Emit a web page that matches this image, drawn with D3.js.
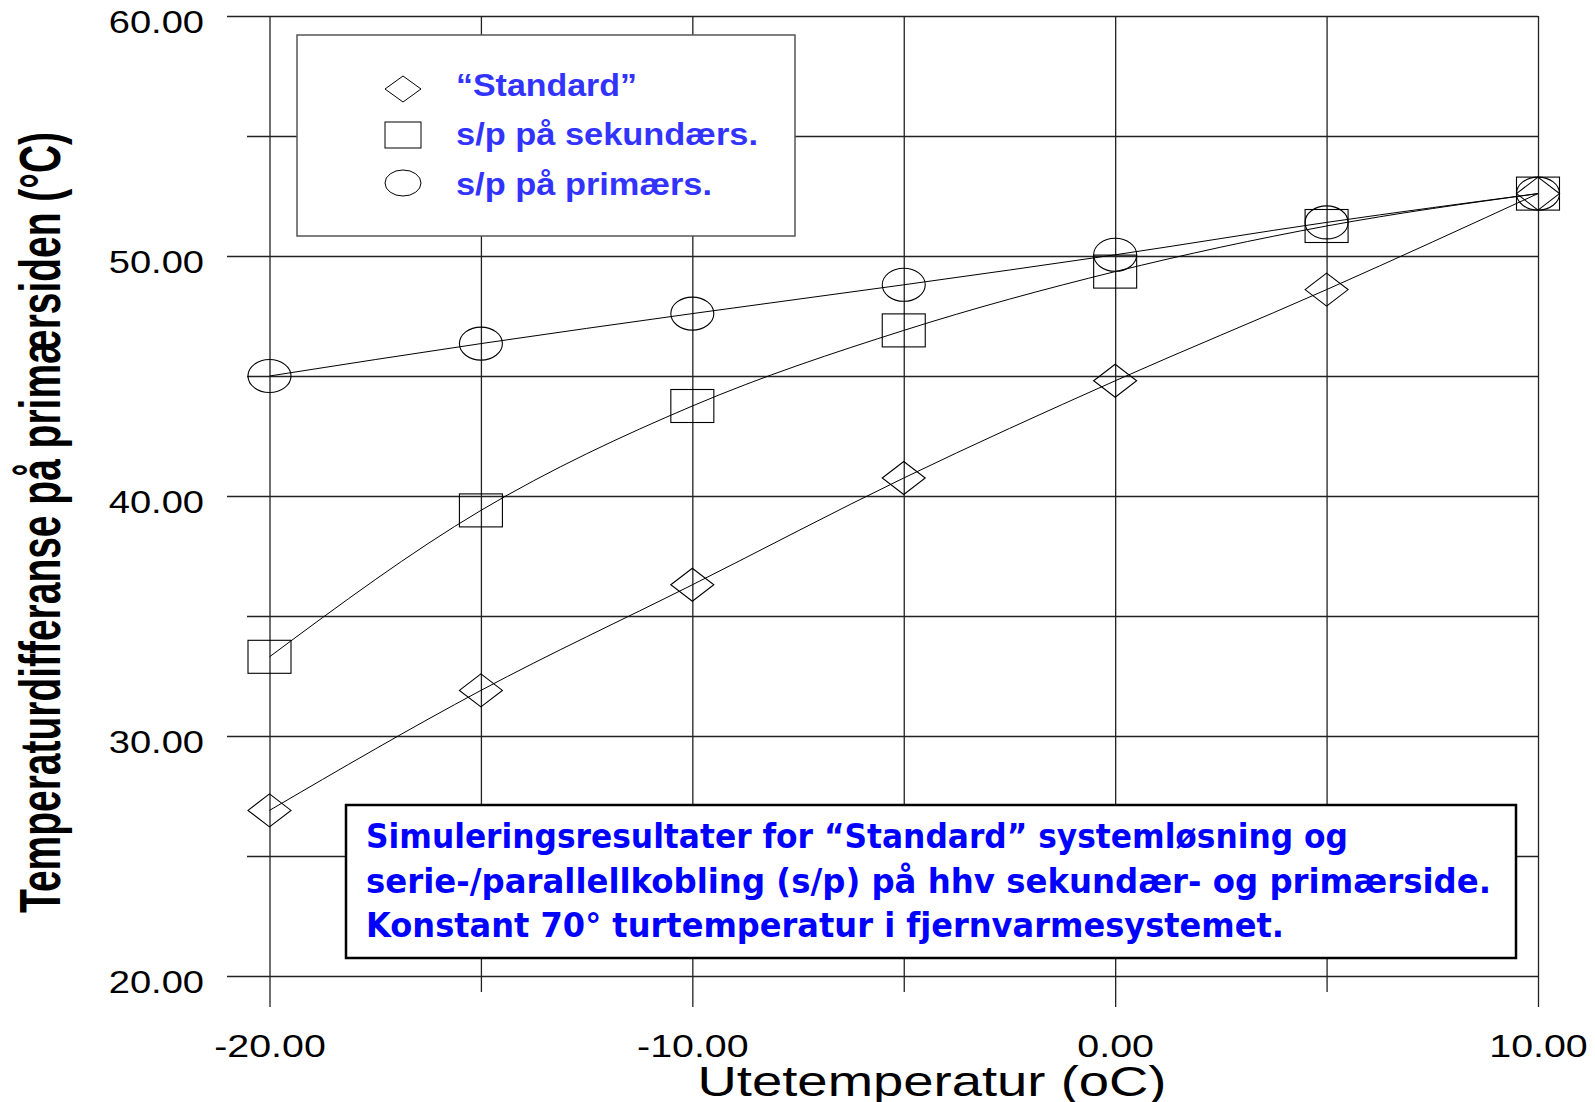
<!DOCTYPE html>
<html>
<head>
<meta charset="utf-8">
<script src="https://cdn.jsdelivr.net/npm/d3@7"></script>
<style>
  body { margin: 0; background: #fff; }
  .axis text { font-family: Arial, "Liberation Sans", sans-serif; fill: #000; }
</style>
</head>
<body>
<div id="chart"></div>
<script>
"use strict";

// data
const outdoorTemps = [-20, -15, -10, -5, 0, 5, 10];
const standardDT = [26.9, 31.9, 36.3, 40.75, 44.8, 48.6, 52.6];
const spSecondaryDT = [33.3, 39.4, 43.75, 46.9, 49.35, 51.25, 52.6];
const spPrimaryDT = [45.0, 46.35, 47.6, 48.8, 50.05, 51.4, 52.6];
const seriesNames = ["\u201CStandard\u201D", "s/p på sekundærs.", "s/p på primærs."];
const markerShapes = ["diamond", "square", "circle"];

const xMajorTicks = [-20, -10, 0, 10];
const xMinorTicks = [-15, -5, 5];
const yMajorTicks = [20, 30, 40, 50, 60];
const yMinorTicks = [25, 35, 45, 55];

const xTitle = "Utetemperatur (oC)";
const yTitle = "Temperaturdifferanse på primærsiden (°C)";
const noteLines = [
  "Simuleringsresultater for \u201CStandard\u201D systemløsning og",
  "serie-/parallellkobling (s/p) på hhv sekundær- og primærside.",
  "Konstant 70° turtemperatur i fjernvarmesystemet.",
];

const plotChart = () => {
  const width = 1595;
  const height = 1102;
  const left = 269.5, right = 1538, top = 16, bottom = 976;

  const svg = d3
    .select("#chart")
    .append("svg")
    .attr("width", width)
    .attr("height", height);

  const x = d3.scaleLinear().domain([-20, 10]).range([left, right]);
  const y = d3.scaleLinear().domain([20, 60]).range([bottom, top]);

  // plain hyphen, two decimals
  const fmt = (d) => d.toFixed(2);

  // stretch text horizontally like the original
  const stretch = (sel, k) => {
    sel.each(function () {
      const len = this.getComputedTextLength();
      d3.select(this)
        .attr("textLength", len * k)
        .attr("lengthAdjust", "spacingAndGlyphs");
    });
  };

  ///////////////////////////////////
  // grid + ticks (axes drawn across the plot)
  ///////////////////////////////////

  const gridStyle = (g) => {
    g.select(".domain").remove();
    g.selectAll(".tick line").attr("stroke", "#222").attr("stroke-width", 1.3);
  };

  const yMaj = svg
    .append("g")
    .attr("class", "axis")
    .attr("transform", `translate(${right},0)`)
    .call(
      d3.axisLeft(y)
        .tickValues(yMajorTicks)
        .tickSize(right - 227)
        .tickPadding(23)
        .tickFormat(fmt)
    )
    .call(gridStyle);
  yMaj.selectAll("text")
    .attr("font-size", 32)
    .attr("dy", 16);
  stretch(yMaj.selectAll("text"), 1.19);

  svg
    .append("g")
    .attr("class", "axis")
    .attr("transform", `translate(${right},0)`)
    .call(d3.axisLeft(y).tickValues(yMinorTicks).tickSize(right - 247).tickFormat(""))
    .call(gridStyle);

  const xMaj = svg
    .append("g")
    .attr("class", "axis")
    .attr("transform", `translate(0,${top})`)
    .call(
      d3.axisBottom(x)
        .tickValues(xMajorTicks)
        .tickSize(1007 - top)
        .tickPadding(27)
        .tickFormat(fmt)
    )
    .call(gridStyle);
  xMaj.selectAll("text").attr("font-size", 32);
  stretch(xMaj.selectAll("text"), 1.23);

  svg
    .append("g")
    .attr("class", "axis")
    .attr("transform", `translate(0,${top})`)
    .call(d3.axisBottom(x).tickValues(xMinorTicks).tickSize(992 - top).tickFormat(""))
    .call(gridStyle);

  ///////////////////////////////////
  // axis titles
  ///////////////////////////////////

  svg
    .append("text")
    .attr("x", 932)
    .attr("y", 1096)
    .attr("text-anchor", "middle")
    .attr("font-family", "Arial, 'Liberation Sans', sans-serif")
    .attr("font-size", 42)
    .attr("textLength", 469)
    .attr("lengthAdjust", "spacingAndGlyphs")
    .text(xTitle);

  svg
    .append("text")
    .attr("transform", "translate(60,913) rotate(-90)")
    .attr("font-family", "Arial, 'Liberation Sans', sans-serif")
    .attr("font-weight", "bold")
    .attr("font-size", 57)
    .attr("textLength", 781)
    .attr("lengthAdjust", "spacingAndGlyphs")
    .text(yTitle);

  ///////////////////////////////////
  // markers
  ///////////////////////////////////

  const drawMarker = (g, shape, cx, cy, w, h) => {
    if (shape === "diamond") {
      g.append("path")
        .attr("d", `M${cx - w / 2},${cy}L${cx},${cy - h / 2}L${cx + w / 2},${cy}L${cx},${cy + h / 2}Z`);
    } else if (shape === "square") {
      g.append("rect")
        .attr("x", cx - w / 2).attr("y", cy - h / 2)
        .attr("width", w).attr("height", h);
    } else {
      g.append("ellipse")
        .attr("cx", cx).attr("cy", cy)
        .attr("rx", w / 2).attr("ry", h / 2);
    }
  };

  ///////////////////////////////////
  // series
  ///////////////////////////////////

  const allSeries = [standardDT, spSecondaryDT, spPrimaryDT];
  const line = d3
    .line()
    .x((d, i) => x(outdoorTemps[i]))
    .y((d) => y(d))
    .curve(d3.curveMonotoneX);

  allSeries.forEach((vals, s) => {
    svg
      .append("path")
      .datum(vals)
      .attr("d", line)
      .attr("fill", "none")
      .attr("stroke", "#000")
      .attr("stroke-width", 1);

    const mg = svg.append("g").attr("fill", "none").attr("stroke", "#000").attr("stroke-width", 1.1);
    vals.forEach((v, i) => {
      drawMarker(mg, markerShapes[s], x(outdoorTemps[i]), y(v), 43, 33);
    });
  });

  ///////////////////////////////////
  // legend
  ///////////////////////////////////

  const legend = svg.append("g");
  legend
    .append("rect")
    .attr("x", 297).attr("y", 35)
    .attr("width", 498).attr("height", 201)
    .attr("fill", "#fff")
    .attr("stroke", "#555")
    .attr("stroke-width", 1.5);

  const legendY = [89, 135, 183];
  const legendBase = [95.5, 145, 195];
  const legendLen = [181, 302, 256];
  seriesNames.forEach((name, i) => {
    const mg = legend.append("g").attr("fill", "none").attr("stroke", "#000").attr("stroke-width", 1);
    drawMarker(mg, markerShapes[i], 403, legendY[i], 36, 26);
    legend
      .append("text")
      .attr("x", 456)
      .attr("y", legendBase[i])
      .attr("font-family", "Arial, 'Liberation Sans', sans-serif")
      .attr("font-weight", "bold")
      .attr("font-size", 32)
      .attr("fill", "#3333ff")
      .attr("textLength", legendLen[i])
      .attr("lengthAdjust", "spacingAndGlyphs")
      .text(name);
  });

  ///////////////////////////////////
  // note box
  ///////////////////////////////////

  const note = svg.append("g");
  note
    .append("rect")
    .attr("x", 346).attr("y", 805)
    .attr("width", 1170).attr("height", 153)
    .attr("fill", "#fff")
    .attr("stroke", "#000")
    .attr("stroke-width", 2.5);

  const noteLen = [982, 1125, 918];
  noteLines.forEach((t, i) => {
    note
      .append("text")
      .attr("x", 366)
      .attr("y", 848 + i * 44.5)
      .attr("font-family", "'Comic Sans MS', 'DejaVu Sans', sans-serif")
      .attr("font-weight", "bold")
      .attr("font-size", 33)
      .attr("fill", "#0000ff")
      .attr("textLength", noteLen[i])
      .attr("lengthAdjust", "spacingAndGlyphs")
      .text(t);
  });
};

plotChart();
</script>
</body>
</html>
